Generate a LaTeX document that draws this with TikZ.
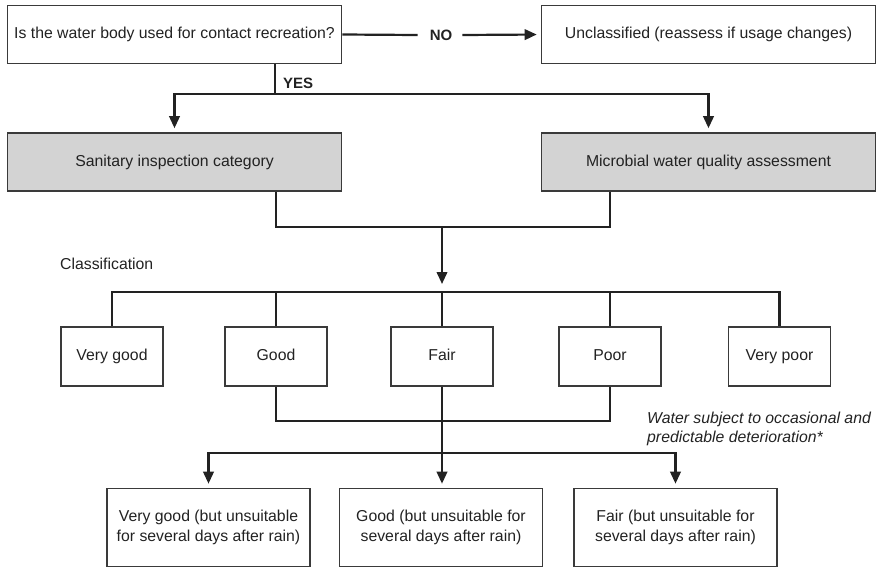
\documentclass[tikz,border=0pt]{standalone}
\usepackage{fontspec}
\setmainfont{Liberation Sans}
\usetikzlibrary{arrows.meta}
\definecolor{boxc}{HTML}{3A3A3A}
\definecolor{linec}{HTML}{222222}
\definecolor{txt}{HTML}{222222}
\definecolor{grayfill}{HTML}{D3D3D3}
\begin{document}
\begin{tikzpicture}[x=1pt,y=-1pt,
  box/.style={draw=boxc, line width=1.6pt, rectangle, inner sep=0pt, align=center,
    font=\fontsize{15.8}{20}\selectfont, text=txt},
  onel/.style={text height=11.5pt, text depth=3.5pt},
  widebox/.style={box, onel, minimum width=334pt, minimum height=58pt},
  classbox/.style={box, onel, minimum width=102pt, minimum height=59pt},
  rainbox/.style={box, minimum width=203pt, minimum height=78pt},
  conn/.style={draw=linec, line width=2.2pt, line join=miter},
  arr/.style={conn, -{Triangle[length=12pt,width=10.5pt]}, shorten >=4pt},
  lbl/.style={font=\bfseries\fontsize{15}{18}\selectfont, text=txt, inner sep=0pt},
  plain/.style={font=\fontsize{15.8}{19}\selectfont, text=txt, inner sep=0pt, align=left}
]
\useasboundingbox (0,0) rectangle (879,568);

% top row
\node[widebox] (q) at (174.5,34.5) {Is the water body used for contact recreation?};
\node[widebox] (u) at (708.5,34.5) {Unclassified (reassess if usage changes)};
\node[lbl] (no) at (441,35) {NO};
\draw[conn] (q.east) -- ([xshift=-12pt]no.west);
\draw[arr] ([xshift=10pt]no.east) -- (u.west);

% assessments
\node[widebox, fill=grayfill] (san) at (174.5,162) {Sanitary inspection category};
\node[widebox, fill=grayfill] (mic) at (708.5,162) {Microbial water quality assessment};

\coordinate (yes) at (275,94);
\node[lbl, anchor=west] (yeslbl) at (283,83) {YES};
\draw[conn] (q.south -| yes) -- (yes);
\draw[arr] (yes) -| (san.north);
\draw[arr] (yes) -| (mic.north);

% classification boxes
\node[classbox] (vg) at (112,356.5) {Very good};
\node[classbox] (gd) at (276,356.5) {Good};
\node[classbox] (fr) at (442,356.5) {Fair};
\node[classbox] (pr) at (610,356.5) {Poor};
\node[classbox] (vp) at (779.5,356.5) {Very poor};

\coordinate (mid) at (442,227);
\draw[conn] (san.south -| gd) |- (mid) -| (mic.south -| pr);
\coordinate (arrend) at (442,284);
\draw[arr, shorten >=0pt] (mid) -- (arrend);

\node[plain, anchor=west] (cls) at (60,264) {Classification};

\coordinate (bar) at (442,292);
\draw[conn] (vg.north) |- (bar) -| (vp.north);
\draw[conn] (gd.north) -- (gd.north |- bar);
\draw[conn] (fr.north) -- (fr.north |- bar);
\draw[conn] (pr.north) -- (pr.north |- bar);

% deterioration boxes
\node[rainbox] (b1) at (208.5,527.5) {Very good (but unsuitable\\for several days after rain)};
\node[rainbox] (b2) at (441,527.5) {Good (but unsuitable for\\several days after rain)};
\node[rainbox] (b3) at (675.5,527.5) {Fair (but unsuitable for\\several days after rain)};

\coordinate (jn) at (442,421);
\draw[conn] (gd.south) |- (jn) -| (pr.south);
\coordinate (split) at (442,453);
\draw[conn] (fr.south) -- (split);
\draw[arr] (split) -| (b1.north);
\draw[arr] (split) -- (split |- b2.north);
\draw[arr] (split) -| (b3.north);

\node[plain, anchor=north west, font=\itshape\fontsize{15.8}{18.5}\selectfont] (note) at (647,412)
  {Water subject to occasional and\\predictable deterioration*};
\end{tikzpicture}
\end{document}
